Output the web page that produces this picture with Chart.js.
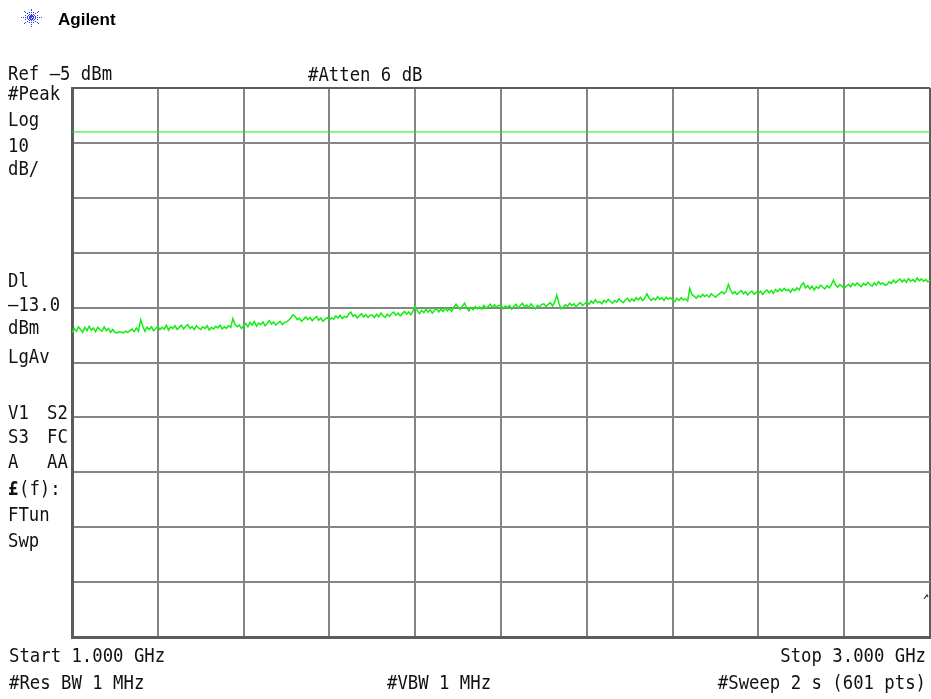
<!DOCTYPE html>
<html>
<head>
<meta charset="utf-8">
<script src="https://cdn.jsdelivr.net/npm/chart.js@4/dist/chart.umd.min.js"></script>
<style>
  html, body { margin: 0; padding: 0; background: #ffffff; }
  canvas { display: block; }
</style>
</head>
<body>
<canvas id="sa" width="931" height="699"></canvas>
<script>
// sweep settings
const START_GHZ = 1.0;
const STOP_GHZ = 3.0;
const REF_LEVEL_DBM = -5;
const DB_PER_DIV = 10;
const DIVISIONS = 10;
const DISPLAY_LINE_DBM = -13.0;

// trace, every 5 MHz (dBm)
const traceDbm = [
  -49.6, -48.8, -49.3, -48.5, -49.0, -49.5, -48.6, -49.2, -48.4, -49.1,
  -48.7, -49.4, -48.6, -49.0, -49.3, -48.5, -49.2, -48.8, -49.5, -49.0,
  -49.5, -49.6, -49.4, -49.5, -49.6, -49.3, -49.5, -49.2, -48.9, -49.4,
  -48.7, -49.3, -47.2, -48.4, -49.3, -48.6, -49.0, -48.5, -49.2, -48.8,
  -48.4, -49.0, -48.6, -48.9, -48.2, -49.1, -48.5, -48.8, -48.3, -49.0,
  -48.6, -48.2, -48.9, -48.4, -48.1, -48.8, -48.5, -49.0, -48.3, -48.7,
  -49.0, -48.5, -48.8, -48.3, -49.1, -48.6, -48.9, -48.4, -48.7, -48.2,
  -48.9, -48.5, -48.8, -48.3, -48.6, -47.0, -48.1, -48.5, -48.2, -48.8,
  -48.3, -47.9, -48.5, -47.7, -48.2, -47.5, -48.4, -47.8, -48.1, -47.6,
  -48.3, -47.9, -47.4, -48.0, -47.6, -48.2, -47.8, -47.5, -48.1, -47.7,
  -47.6, -47.3, -46.9, -46.3, -46.6, -47.2, -46.9, -47.5, -47.1, -46.7,
  -47.2, -46.8, -47.4, -47.0, -46.6, -47.3, -46.9, -47.5, -47.1, -46.8,
  -47.3, -46.9, -47.1, -46.5, -46.9, -46.4, -47.0, -46.6, -46.8, -46.2,
  -45.8, -46.6, -46.3, -46.9, -46.5, -46.1, -46.7, -46.3, -46.8, -46.4,
  -46.4, -46.8, -46.2, -46.7, -46.0, -46.5, -46.8, -46.2, -46.6, -46.1,
  -45.8, -46.4, -46.0, -46.5, -46.1, -45.7, -46.2, -45.8, -46.3, -45.6,
  -44.7, -45.6, -46.1, -45.5, -45.9, -45.3, -45.8, -45.4, -46.0, -45.5,
  -45.2, -45.8, -45.3, -45.7, -45.1, -45.6, -45.2, -45.7, -44.9, -44.4,
  -44.9, -45.3, -44.7, -44.2, -45.1, -45.6, -45.0, -45.4, -44.8, -45.2,
  -44.9, -45.3, -44.6, -45.1, -44.8, -44.4, -45.0, -44.5, -44.9, -44.6,
  -44.5, -45.2, -44.7, -45.0, -44.6, -45.3, -44.8, -44.4, -45.1, -44.6,
  -44.2, -44.9, -44.5, -45.0, -44.3, -44.8, -45.2, -44.6, -44.9, -44.4,
  -44.3, -44.8, -44.4, -44.1, -44.7, -44.0, -42.7, -44.2, -45.2, -44.9,
  -44.5, -44.8, -44.2, -44.6, -44.3, -44.9, -44.4, -44.1, -44.6, -44.3,
  -44.0, -44.4, -43.8, -44.2, -43.6, -44.1, -43.9, -44.3, -43.7, -44.0,
  -43.5, -43.9, -44.2, -43.7, -44.0, -43.4, -43.8, -44.1, -43.6, -43.3,
  -43.9, -43.4, -43.8, -43.2, -43.6, -43.1, -43.7, -43.3, -42.5, -43.2,
  -43.7, -43.3, -43.6, -43.0, -43.5, -43.2, -43.7, -43.1, -43.5, -43.2,
  -43.6, -43.9, -43.3, -43.7, -43.2, -43.6, -43.4, -43.8, -41.5, -42.6,
  -42.9, -43.3, -42.8, -43.1, -42.6, -43.0, -42.7, -43.1, -42.5, -42.8,
  -43.1, -42.7, -42.4, -42.1, -42.5, -42.0, -40.8, -41.8, -42.5, -42.1,
  -42.6, -42.2, -41.9, -42.5, -42.1, -42.7, -42.3, -42.0, -42.6, -42.2,
  -42.4, -42.0, -42.6, -42.1, -41.8, -42.3, -41.9, -42.4, -41.7, -42.1,
  -41.6, -42.0, -41.5, -41.9, -41.7, -42.2, -41.6, -41.9, -41.4, -41.8,
  -40.9, -40.5, -41.4, -41.0, -41.6, -41.1, -41.8, -41.2, -41.5, -40.9,
  -41.3, -41.6, -41.0, -41.4, -40.8, -40.0, -40.9, -41.3, -40.8, -41.1,
  -41.5, -41.1, -40.8, -41.2, -40.6, -41.0, -40.5, -40.9, -41.2, -40.6,
  -40.9, -40.4, -40.8, -41.1, -40.5, -40.9, -40.3, -40.7, -40.5, -40.9,
  -40.8, -40.3, -40.6, -40.0, -40.5, -40.1, -39.8, -40.3, -39.9, -40.4,
  -39.7, -40.2, -39.9, -40.3, -39.6, -40.1, -39.8, -40.2, -39.9, -40.3,
  -40.1
];

const freqGhz = traceDbm.map((_, i) => START_GHZ + i * (STOP_GHZ - START_GHZ) / (traceDbm.length - 1));

// annotation texts round the graticule
const leftPanel = [
  ['#Peak', 100], ['Log', 126], ['10', 152], ['dB/', 175],
  ['Dl', 287], ['–13.0', 311], ['dBm', 334], ['LgAv', 363],
  ['V1', 419], ['S3', 443], ['A', 468], ['FTun', 521], ['Swp', 547]
];
const leftPanel2 = [['S2', 419], ['FC', 443], ['AA', 468]];

const TRACE_GREEN = '#10ee10';
const GRID = '#858585';
const FRAME = '#5c5c5c';

const monoText = (ctx, text, x, y, align) => {
  const sx = 0.91;
  ctx.save();
  ctx.font = '19px "DejaVu Sans Mono"';
  ctx.fillStyle = '#111111';
  ctx.textBaseline = 'alphabetic';
  ctx.textAlign = 'left';
  let w = ctx.measureText(text).width * sx;
  let left = align === 'right' ? x - w : x;
  ctx.translate(left, y);
  ctx.scale(sx, 1);
  ctx.fillText(text, 0, 0);
  ctx.restore();
};

const screenText = {
  id: 'screenText',
  afterDraw(chart) {
    const ctx = chart.ctx;

    // Agilent spark
    ctx.save();
    ctx.fillStyle = '#2f40f0';
    const cx = 31, cy = 17;
    for (let k = 0; k < 16; k++) {
      const a = k * Math.PI / 8;
      const reach = k % 2 === 0 ? 10 : 7;
      for (let r = 2; r <= reach; r += 2) {
        ctx.fillRect(Math.round(cx + r * Math.cos(a)), Math.round(cy + r * Math.sin(a) * 0.85), 1, 1);
      }
    }
    ctx.fillRect(cx - 1, cy - 1, 2, 2);
    ctx.restore();

    ctx.save();
    ctx.font = 'bold 17px "Liberation Sans"';
    ctx.fillStyle = '#000000';
    ctx.fillText('Agilent', 58, 25);
    ctx.restore();

    // small off-screen marker tick at the right edge
    ctx.save();
    ctx.strokeStyle = '#333333';
    ctx.lineWidth = 1.2;
    ctx.beginPath();
    ctx.moveTo(924, 599);
    ctx.lineTo(927, 595);
    ctx.lineTo(928, 597);
    ctx.stroke();
    ctx.restore();

    monoText(ctx, 'Ref –5 dBm', 8, 80);
    monoText(ctx, '#Atten 6 dB', 308, 81);
    leftPanel.forEach(([t, y]) => monoText(ctx, t, 8, y));
    leftPanel2.forEach(([t, y]) => monoText(ctx, t, 47, y));

    // £(f): with bold pound sign
    ctx.save();
    ctx.font = 'bold 19px "DejaVu Sans Mono"';
    ctx.fillStyle = '#111111';
    ctx.translate(8, 495);
    ctx.scale(0.91, 1);
    ctx.fillText('£', 0, 0);
    ctx.restore();
    monoText(ctx, '(f):', 19, 495);

    monoText(ctx, 'Start 1.000 GHz', 9, 662);
    monoText(ctx, '#Res BW 1 MHz', 9, 689);
    monoText(ctx, '#VBW 1 MHz', 387, 689);
    monoText(ctx, 'Stop 3.000 GHz', 926, 662, 'right');
    monoText(ctx, '#Sweep 2 s (601 pts)', 926, 689, 'right');
  }
};

const edgeColor = (max) => (c) => (c.tick && Math.abs(c.tick.value - max) < 1e-6 ? FRAME : GRID);

new Chart(document.getElementById('sa'), {
  type: 'line',
  data: {
    datasets: [
      {
        label: 'Trace',
        data: freqGhz.map((f, i) => ({x: f, y: traceDbm[i]})),
        borderColor: TRACE_GREEN,
        borderWidth: 1.5,
        pointRadius: 0,
        tension: 0
      },
      {
        label: 'Display line',
        data: [{x: START_GHZ, y: DISPLAY_LINE_DBM}, {x: STOP_GHZ, y: DISPLAY_LINE_DBM}],
        borderColor: TRACE_GREEN,
        borderWidth: 1,
        pointRadius: 0
      }
    ]
  },
  options: {
    responsive: false,
    animation: false,
    devicePixelRatio: 1,
    layout: {
      padding: {left: 72, top: 88, right: 1, bottom: 62}
    },
    plugins: {
      legend: {display: false},
      tooltip: {enabled: false}
    },
    scales: {
      x: {
        type: 'linear',
        min: START_GHZ,
        max: STOP_GHZ,
        ticks: {display: false, stepSize: (STOP_GHZ - START_GHZ) / DIVISIONS},
        grid: {color: edgeColor(STOP_GHZ), lineWidth: 2, drawTicks: false},
        border: {color: FRAME, width: 3}
      },
      y: {
        min: REF_LEVEL_DBM - DB_PER_DIV * DIVISIONS,
        max: REF_LEVEL_DBM,
        ticks: {display: false, stepSize: DB_PER_DIV},
        grid: {color: edgeColor(REF_LEVEL_DBM), lineWidth: 2, drawTicks: false},
        border: {color: FRAME, width: 3}
      }
    }
  },
  plugins: [screenText]
});
</script>
</body>
</html>
